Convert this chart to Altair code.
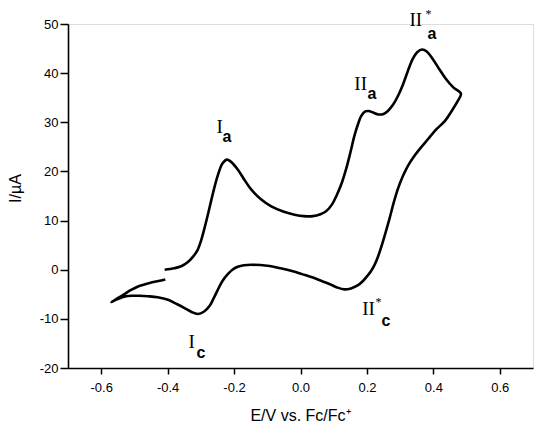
import altair as alt
import pandas as pd

# Forward (anodic) scan
E_forward = [-0.409, -0.380, -0.359, -0.340, -0.324, -0.310, -0.299, -0.287, -0.274, -0.262,
             -0.249, -0.235, -0.222, -0.210, -0.189, -0.168, -0.148, -0.120, -0.088, -0.050,
             -0.018, 0.010, 0.037, 0.060, 0.077, 0.095, 0.112, 0.125, 0.137, 0.150,
             0.162, 0.173, 0.183, 0.195, 0.205, 0.218, 0.235, 0.250, 0.263, 0.278,
             0.293, 0.308, 0.323, 0.338, 0.352, 0.366, 0.380, 0.398, 0.418, 0.438,
             0.460, 0.483]
I_forward = [0.0, 0.3, 0.7, 1.5, 2.6, 4.0, 6.0, 9.0, 12.6, 16.0,
             19.2, 21.6, 22.4, 22.0, 20.4, 18.2, 16.3, 14.4, 12.9, 11.8,
             11.2, 10.9, 10.9, 11.3, 11.9, 13.3, 15.6, 17.8, 20.4, 23.8,
             27.2, 29.6, 31.3, 32.2, 32.3, 32.0, 31.6, 31.7, 32.3, 33.5,
             35.3, 37.6, 40.4, 42.9, 44.3, 44.8, 44.4, 42.9, 40.8, 38.8,
             37.1, 35.8]

# Reverse (cathodic) scan and return
E_reverse = [0.474, 0.458, 0.435, 0.408, 0.383, 0.358, 0.340, 0.323, 0.308, 0.293,
             0.280, 0.268, 0.255, 0.243, 0.233, 0.223, 0.212, 0.202, 0.188, 0.172,
             0.152, 0.132, 0.110, 0.087, 0.060, 0.037, 0.005, -0.023, -0.060, -0.100,
             -0.148, -0.170, -0.189, -0.205, -0.219, -0.235, -0.249, -0.262, -0.274, -0.290,
             -0.309, -0.328, -0.349, -0.375, -0.399, -0.430, -0.459, -0.485, -0.509, -0.525,
             -0.540, -0.555, -0.569, -0.550, -0.529, -0.510, -0.489, -0.470, -0.449, -0.428,
             -0.407]
I_reverse = [34.4, 32.6, 30.3, 28.5, 26.5, 24.5, 22.9, 21.1, 19.0, 16.4,
             13.5, 10.4, 7.3, 4.6, 2.6, 1.0, -0.3, -1.2, -2.3, -3.2,
             -3.8, -4.0, -3.6, -2.9, -2.2, -1.6, -0.9, -0.3, 0.3, 0.8,
             1.0, 0.9, 0.6, 0.0, -0.9, -2.3, -4.1, -5.9, -7.4, -8.5,
             -9.0, -8.6, -7.8, -6.9, -6.1, -5.6, -5.4, -5.3, -5.3, -5.4,
             -5.7, -6.1, -6.6, -5.8, -4.9, -4.1, -3.4, -3.0, -2.6, -2.3,
             -2.0]

# Peak labels
main_text = ["I", "II", "II", "I", "II"]
main_x = [-0.253, 0.162, 0.328, -0.337, 0.186]
main_y = [27.8, 36.5, 49.6, -15.9, -9.2]
sub_text = ["a", "a", "a", "c", "c"]
sub_x = [-0.235, 0.2015, 0.382, -0.313, 0.2436]
sub_y = [25.9, 34.7, 46.9, -18.0, -11.4]
star_x = [0.376, 0.2256]
star_y = [51.2, -7.3]

x_ticks = [-0.6, -0.5, -0.4, -0.3, -0.2, -0.1, 0.0, 0.1, 0.2, 0.3, 0.4, 0.5, 0.6]
y_ticks = [-20, -15, -10, -5, 0, 5, 10, 15, 20, 25, 30, 35, 40, 45, 50]

E_all = E_forward + E_reverse
I_all = I_forward + I_reverse
cv = pd.DataFrame({"E": E_all, "I": I_all, "idx": list(range(len(E_all)))})
main_df = pd.DataFrame({"t": main_text, "E": main_x, "I": main_y})
sub_df = pd.DataFrame({"t": sub_text, "E": sub_x, "I": sub_y})
star_df = pd.DataFrame({"t": ["*"] * len(star_x), "E": star_x, "I": star_y})

x_scale = alt.Scale(domain=[-0.7, 0.7], nice=False, zero=False)
y_scale = alt.Scale(domain=[-20, 50], nice=False, zero=False)

x_axis = alt.Axis(
    values=x_ticks,
    title="E/V vs. Fc/Fc\u207a",
    titleFont="Liberation Sans", titleFontSize=16, titleFontWeight="normal",
    titleColor="black", titleBaseline="alphabetic", titleY=52, titleX=232,
    labelFont="Liberation Sans", labelFontSize=13, labelColor="black",
    labelExpr="abs(round(datum.value*10)) % 2 == 0 ? ((datum.value < -0.001 ? '-' : '') + format(abs(datum.value), '.1f')) : ''",
    labelPadding=7, labelFlush=False, labelOverlap=False,
    tickSize={"condition": {"test": "abs(round(datum.value*10)) % 2 == 0", "value": 6}, "value": 3},
    tickColor="black", tickWidth=1.5, domainColor="black", domainWidth=1.6, grid=False,
)
y_axis = alt.Axis(
    values=y_ticks,
    title="I/\u00b5A",
    titleFont="Liberation Sans", titleFontSize=16, titleFontWeight="normal",
    titleColor="black", titleAngle=-90, titleBaseline="alphabetic", titleAlign="center",
    titleX=-48, titleY=164,
    labelFont="Liberation Sans", labelFontSize=13, labelColor="black",
    labelExpr="datum.value % 10 == 0 ? ((datum.value < 0 ? '-' : '') + format(abs(datum.value), 'd')) : ''",
    labelPadding=2, labelFlush=False, labelOverlap=False,
    tickSize={"condition": {"test": "datum.value % 10 == 0", "value": 8}, "value": 5},
    tickColor="black", tickWidth=1.5, domainColor="black", domainWidth=1.6, grid=False,
)

line = alt.Chart(cv).mark_line(interpolate="catmull-rom", color="black", strokeWidth=2.6).encode(
    x=alt.X("E:Q", scale=x_scale, axis=x_axis),
    y=alt.Y("I:Q", scale=y_scale, axis=y_axis),
    order="idx:Q",
)

main_lbl = alt.Chart(main_df).mark_text(
    align="left", baseline="alphabetic", font="Liberation Serif", fontSize=19, color="black"
).encode(x="E:Q", y="I:Q", text="t:N")

sub_lbl = alt.Chart(sub_df).mark_text(
    align="left", baseline="alphabetic", font="Liberation Sans", fontSize=16,
    fontWeight="bold", color="black"
).encode(x="E:Q", y="I:Q", text="t:N")

star_lbl = alt.Chart(star_df).mark_text(
    align="left", baseline="alphabetic", font="Liberation Serif", fontSize=12, color="black"
).encode(x="E:Q", y="I:Q", text="t:N")

chart = alt.layer(line, main_lbl, sub_lbl, star_lbl).properties(
    width=465, height=344,
    padding={"left": 60, "top": 16, "right": 9, "bottom": 60},
    autosize=alt.AutoSizeParams(type="none"),
).configure_view(stroke="transparent").configure(background="white")

chart.save("out.html", embed_options={"renderer": "svg", "actions": False})
